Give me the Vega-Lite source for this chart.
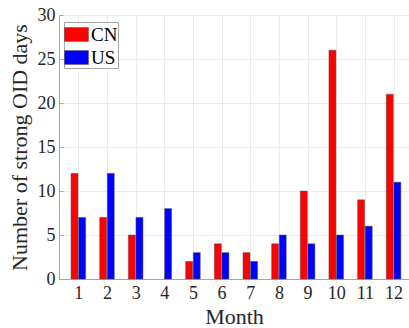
{
  "$schema": "https://vega.github.io/schema/vega-lite/v6.json",
  "autosize": {"type": "none"},
  "padding": {"left": 59, "top": 15, "right": 0, "bottom": 49},
  "width": 350,
  "height": 264,
  "background": "white",
  "config": {
    "font": "Liberation Serif",
    "view": {"stroke": null},
    "axis": {
      "labelFont": "Liberation Serif",
      "titleFont": "Liberation Serif",
      "labelFontSize": 18,
      "titleFontSize": 22,
      "titleFontWeight": "normal",
      "labelColor": "#262626",
      "titleColor": "#262626",
      "domainColor": "#a6a6a6",
      "tickColor": "#a6a6a6",
      "tickSize": -4,
      "gridColor": "#ebebeb",
      "gridWidth": 1
    }
  },
  "data": {
    "values": [
      {"month": 1, "country": "CN", "days": 12}, {"month": 1, "country": "US", "days": 7},
      {"month": 2, "country": "CN", "days": 7}, {"month": 2, "country": "US", "days": 12},
      {"month": 3, "country": "CN", "days": 5}, {"month": 3, "country": "US", "days": 7},
      {"month": 4, "country": "CN", "days": 0}, {"month": 4, "country": "US", "days": 8},
      {"month": 5, "country": "CN", "days": 2}, {"month": 5, "country": "US", "days": 3},
      {"month": 6, "country": "CN", "days": 4}, {"month": 6, "country": "US", "days": 3},
      {"month": 7, "country": "CN", "days": 3}, {"month": 7, "country": "US", "days": 2},
      {"month": 8, "country": "CN", "days": 4}, {"month": 8, "country": "US", "days": 5},
      {"month": 9, "country": "CN", "days": 10}, {"month": 9, "country": "US", "days": 4},
      {"month": 10, "country": "CN", "days": 26}, {"month": 10, "country": "US", "days": 5},
      {"month": 11, "country": "CN", "days": 9}, {"month": 11, "country": "US", "days": 6},
      {"month": 12, "country": "CN", "days": 21}, {"month": 12, "country": "US", "days": 11}
    ]
  },
  "encoding": {
    "x": {
      "field": "month", "type": "quantitative",
      "scale": {"domain": [0.5, 12.364], "nice": false, "zero": false},
      "axis": {"values": [1,2,3,4,5,6,7,8,9,10,11,12], "title": "Month", "labelPadding": 9, "titlePadding": 4}
    },
    "y": {
      "field": "days", "type": "quantitative",
      "scale": {"domain": [0, 30], "nice": false},
      "axis": {"values": [0,5,10,15,20,25,30], "title": "Number of strong OID days", "labelPadding": 8, "titlePadding": 6}
    },
    "color": {
      "field": "country", "type": "nominal",
      "scale": {"domain": ["CN", "US"], "range": ["#ff0000", "#0000ff"]},
      "legend": {
        "title": null,
        "orient": "none",
        "legendX": 5,
        "legendY": 7,
        "symbolType": "M-1,-0.58H1V0.58H-1Z",
        "symbolSize": 576,
        "symbolStrokeColor": "#555555",
        "symbolStrokeWidth": 0.5,
        "symbolOpacity": 1,
        "labelFontSize": 19,
        "labelFont": "Liberation Serif",
        "labelColor": "#000000",
        "labelOffset": 2,
        "rowPadding": -3,
        "padding": 0,
        "strokeColor": "#a6a6a6",
        "fillColor": "white"
      }
    },
    "strokeOpacity": {
      "condition": {"test": "datum.days === 0", "value": 0},
      "value": 1
    }
  },
  "layer": [
    {
      "transform": [{"filter": "datum.country === 'CN'"}],
      "mark": {"type": "bar", "width": 7, "xOffset": -3.8, "stroke": "#555555", "strokeWidth": 0.5, "opacity": 1}
    },
    {
      "transform": [{"filter": "datum.country === 'US'"}],
      "mark": {"type": "bar", "width": 7, "xOffset": 3.8, "stroke": "#555555", "strokeWidth": 0.5, "opacity": 1}
    }
  ]
}
